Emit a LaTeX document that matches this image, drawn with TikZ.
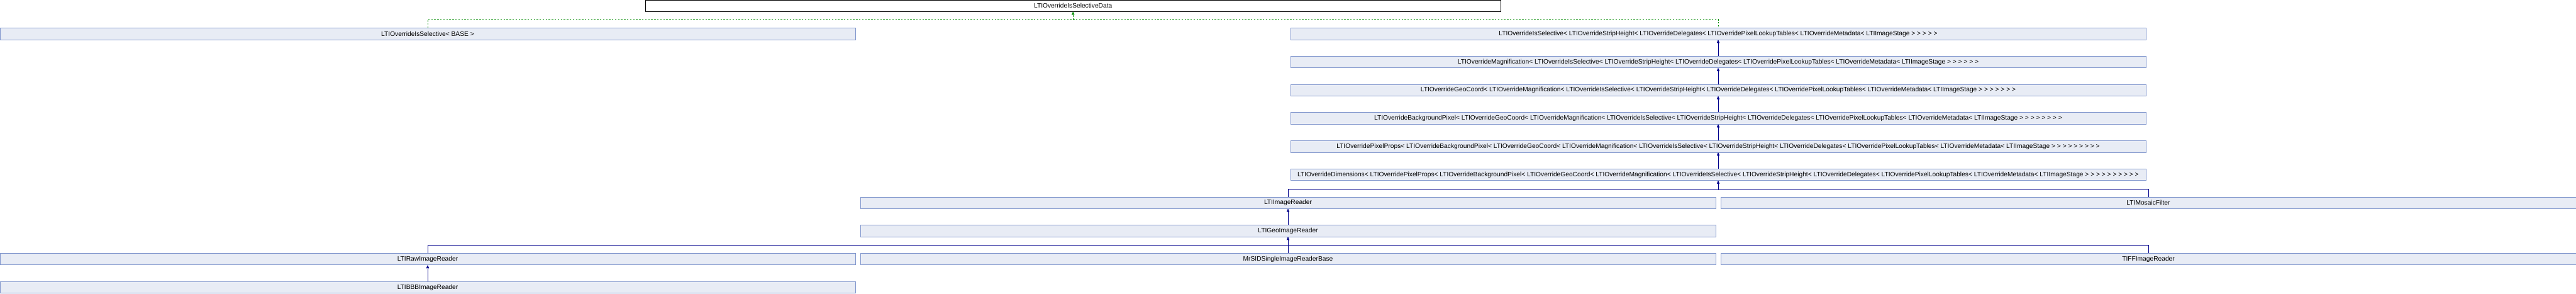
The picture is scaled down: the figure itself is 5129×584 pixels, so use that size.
\documentclass[tikz,border=0pt]{standalone}
\usepackage{fontspec}
\setmainfont{Liberation Sans}
\usepackage{tikz}
\usetikzlibrary{arrows}
\usetikzlibrary{positioning}

\definecolor{boxfill}{HTML}{E8ECF5}
\definecolor{boxline}{HTML}{7F95CC}
\definecolor{inhline}{HTML}{00008B}
\definecolor{tmplline}{HTML}{008C00}

\begin{document}
\begin{tikzpicture}[x=1pt,y=1pt,>=stealth',node distance=56pt,on grid,
  klass/.style={draw=boxline,fill=boxfill,line width=1.2pt,minimum width=1703pt,minimum height=23pt,inner sep=0pt,font=\fontsize{12.8}{15}\selectfont},
  current/.style={klass,draw=black,fill=white},
  inh/.style={draw=inhline,line width=1.2pt},
  tmpl/.style={draw=tmplline,line width=1.2pt,dashed}]
	\useasboundingbox (0,0) rectangle (5129,-584);
	\node[current] (data)  at (2136.5,-11.5) {LTIOverrideIsSelectiveData};
	\node[klass]   (base)  at (851.5,-67.5)  {LTIOverrideIsSelective< BASE >};
	\node[klass]   (sel)   at (3421,-67.5)   {LTIOverrideIsSelective< LTIOverrideStripHeight< LTIOverrideDelegates< LTIOverridePixelLookupTables< LTIOverrideMetadata< LTIImageStage > > > > >};
	\node[klass]   (mag)   [below =of sel]   {LTIOverrideMagnification< LTIOverrideIsSelective< LTIOverrideStripHeight< LTIOverrideDelegates< LTIOverridePixelLookupTables< LTIOverrideMetadata< LTIImageStage > > > > > >};
	\node[klass]   (geo)   [below =of mag]   {LTIOverrideGeoCoord< LTIOverrideMagnification< LTIOverrideIsSelective< LTIOverrideStripHeight< LTIOverrideDelegates< LTIOverridePixelLookupTables< LTIOverrideMetadata< LTIImageStage > > > > > > >};
	\node[klass]   (bkg)   [below =of geo]   {LTIOverrideBackgroundPixel< LTIOverrideGeoCoord< LTIOverrideMagnification< LTIOverrideIsSelective< LTIOverrideStripHeight< LTIOverrideDelegates< LTIOverridePixelLookupTables< LTIOverrideMetadata< LTIImageStage > > > > > > > >};
	\node[klass]   (pix)   [below =of bkg]   {LTIOverridePixelProps< LTIOverrideBackgroundPixel< LTIOverrideGeoCoord< LTIOverrideMagnification< LTIOverrideIsSelective< LTIOverrideStripHeight< LTIOverrideDelegates< LTIOverridePixelLookupTables< LTIOverrideMetadata< LTIImageStage > > > > > > > > >};
	\node[klass]   (dim)   [below =of pix]   {LTIOverrideDimensions< LTIOverridePixelProps< LTIOverrideBackgroundPixel< LTIOverrideGeoCoord< LTIOverrideMagnification< LTIOverrideIsSelective< LTIOverrideStripHeight< LTIOverrideDelegates< LTIOverridePixelLookupTables< LTIOverrideMetadata< LTIImageStage > > > > > > > > > >};
	\node[klass]   (reader) [below left =56pt and 856.5pt of dim]  {LTIImageReader};
	\node[klass]   (mosaic) [below right =56pt and 856.5pt of dim] {LTIMosaicFilter};
	\node[klass]   (georeader) [below =of reader] {LTIGeoImageReader};
	\node[klass]   (raw)   [below left =56pt and 1713pt of georeader]  {LTIRawImageReader};
	\node[klass]   (mrsid) [below =of georeader] {MrSIDSingleImageReaderBase};
	\node[klass]   (tiff)  [below right =56pt and 1713pt of georeader] {TIFFImageReader};
	\node[klass]   (bbb)   [below =of raw]   {LTIBBBImageReader};
	% template instances
	\draw[tmpl] (base.north) -- ++(0,17) -| (sel.north);
	\draw[tmpl,->] (data.south) ++(0,-16) -- (data.south);
	% inheritance chain
	\foreach \child/\parent in {mag/sel,geo/mag,bkg/geo,pix/bkg,dim/pix,georeader/reader,mrsid/georeader,bbb/raw}
		\draw[inh,->] (\child.north) -- (\parent.south);
	\draw[inh] (reader.north) -- ++(0,15) -| (mosaic.north);
	\draw[inh,->] (dim.south) ++(0,-18) -- (dim.south);
	\draw[inh] (raw.north) -- ++(0,16) -| (tiff.north);
\end{tikzpicture}
\end{document}
